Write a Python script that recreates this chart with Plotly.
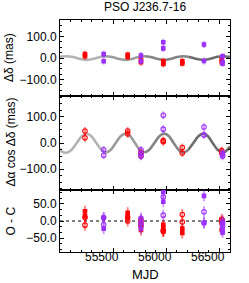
import plotly.graph_objects as go

# ---------------- data ----------------
# Dec offsets (top panel, filled symbols)
dec_red_mjd = [55235, 55235, 55637, 55637, 55762, 55762, 55972, 55972, 55972, 56151, 56151, 56522, 56522]
dec_red_val = [18, 8, 15, 5, -8, -20, -15, -23, -28, -15, -25, -20, -8]
dec_pur_mjd = [55411, 55411, 55762, 55762, 55972, 55972, 56355, 56355, 56530, 56530, 56530]
dec_pur_val = [18, -15, 12, -15, 74, 45, 63, -14, 8, -19, -26]

# RA offsets (middle panel, open symbols)
ra_red_mjd = [55235, 55235, 55637, 55637, 55762, 55762, 55972, 55972, 56151, 56151, 56522, 56522]
ra_red_val = [46, 20, 46, 35, -36, -49, 9, 5, -17, -38, -29, -38]
ra_pur_mjd = [55411, 55411, 55762, 55762, 55762, 55972, 55972, 56355, 56355, 56530, 56530, 56530]
ra_pur_val = [-26, -47, -26, -41, -51, 106, 53, 61, 31, -38, -45, -51]

# O - C residuals (bottom panel): filled = Dec, open = RA
oc_dec_red_val = [28, 14, 24, 12, -13, -26, -11, -20, -30, -22, -35, -26, -6]
oc_dec_pur_val = [9, -22, 4, -22, 85, 56, 73, -6, 2, -26, -33]
oc_ra_red_val = [10, -12, 11, 0, 0, -12, -27, -30, 19, -3, 5, -2]
oc_ra_pur_val = [10, -10, 8, -5, -14, 70, 17, 27, -5, -2, -9, -15]

# error bars (mas)
err_dec = 16
err_ra = 15
err_oc = 16

# fitted parallax curves (extrema, mid-slopes, crossings)
curve_mjd = [55000, 55020, 55063, 55110, 55157, 55204, 55251, 55296, 55342, 55388,
             55433, 55479, 55524, 55571, 55618, 55662, 55706, 55750, 55794, 55841,
             55888, 55935, 55982, 56026, 56070, 56116, 56161, 56208, 56255, 56302,
             56349, 56393, 56437, 56483, 56528, 56565, 56600]
curve_dec = [6, 7, 8, 6, 0, -6, -9, -6, 0, 6, 8, 6, 0, -6, -9, -6, 0, 6, 8, 6,
             0, -6, -9, -6, 0, 6, 8, 6, 0, -6, -9, -6, 0, 6, 8, 7, 5]
curve_ra = [-22, -33, -37, -26, 0, 26, 36, 26, 0, -26, -36, -26, 0, 26, 36, 26, 0, -26, -37, -26,
            0, 26, 36, 26, 0, -26, -37, -26, 0, 26, 36, 26, 0, -26, -37, -30, -14]

x_range = [55000, 56600]
x_ticks = [55500, 56000, 56500]
x_ticklabels = ["55500", "56000", "56500"]
y_ticks_big = [-100, 0, 100]
y_ticks_oc = [-50, 0, 50]

title_text = "PSO J236.7-16"
ytitle_top = "Δδ (mas)"
ytitle_mid = "Δα cos Δδ (mas)"
ytitle_bot = "O - C"
xtitle = "MJD"

# ---------------- styling ----------------
RED = "#ff0000"
PUR = "#9b30ff"
RED_E = "rgba(255,0,0,0.5)"
PUR_E = "rgba(155,48,255,0.5)"
FONT = "Liberation Sans, Arial, Helvetica, sans-serif"
GRAYS = ["#b4b4b4", "#9c9c9c", "#848484", "#6c6c6c"]

fig = go.Figure()


def add_curve(vals, yaxis):
    n = len(curve_mjd)
    seg = [0, 9, 18, 27, n - 1]
    for i in range(4):
        a, b = seg[i], seg[i + 1]
        fig.add_trace(go.Scatter(
            x=curve_mjd[a:b + 1], y=vals[a:b + 1], mode="lines",
            line=dict(color=GRAYS[i], width=2.6, shape="spline", smoothing=0.8),
            xaxis="x" if yaxis == "y" else "x" + yaxis[1:], yaxis=yaxis,
            hoverinfo="skip", showlegend=False))


def add_pts(xs, ys, color, ecolor, err, filled, xa, ya):
    fig.add_trace(go.Scatter(
        x=xs, y=ys, mode="markers",
        marker=dict(symbol="square" if filled else "circle-open",
                    size=3.5 if filled else 4.5,
                    color=color, line=dict(color=color, width=1.1)),
        error_y=dict(type="constant", value=err, thickness=1.8, width=0, color=ecolor),
        xaxis=xa, yaxis=ya, showlegend=False, cliponaxis=True))


add_curve(curve_dec, "y")
add_curve(curve_ra, "y2")

add_pts(dec_red_mjd, dec_red_val, RED, RED_E, err_dec, True, "x", "y")
add_pts(dec_pur_mjd, dec_pur_val, PUR, PUR_E, err_dec, True, "x", "y")

add_pts(ra_red_mjd, ra_red_val, RED, RED_E, err_ra, False, "x2", "y2")
add_pts(ra_pur_mjd, ra_pur_val, PUR, PUR_E, err_ra, False, "x2", "y2")

add_pts(dec_red_mjd, oc_dec_red_val, RED, RED_E, err_oc, True, "x3", "y3")
add_pts(dec_pur_mjd, oc_dec_pur_val, PUR, PUR_E, err_oc, True, "x3", "y3")
add_pts(ra_red_mjd, oc_ra_red_val, RED, RED_E, err_oc, False, "x3", "y3")
add_pts(ra_pur_mjd, oc_ra_pur_val, PUR, PUR_E, err_oc, False, "x3", "y3")

axis_common = dict(showline=True, linecolor="black", linewidth=1, mirror="allticks",
                   ticks="inside", ticklen=4, tickwidth=1, tickcolor="black",
                   showgrid=False, zeroline=False, automargin=False,
                   tickfont=dict(family=FONT, size=12, color="black"))

xa = dict(axis_common, range=x_range, tickvals=x_ticks, showticklabels=False,
          minor=dict(ticks="inside", ticklen=2, dtick=100, tick0=55000, tickcolor="black"))

annotations = [
    dict(text=title_text, xref="paper", yref="paper", x=0.5, y=1.056,
         xanchor="center", yanchor="middle", showarrow=False,
         font=dict(family=FONT, size=12)),
    dict(text=ytitle_top, xref="paper", yref="paper", x=-0.30, y=0.836, textangle=-90,
         xanchor="center", yanchor="middle", showarrow=False,
         font=dict(family=FONT, size=12)),
    dict(text=ytitle_mid, xref="paper", yref="paper", x=-0.29, y=0.475, textangle=-90,
         xanchor="center", yanchor="middle", showarrow=False,
         font=dict(family=FONT, size=12)),
    dict(text=ytitle_bot, xref="paper", yref="paper", x=-0.29, y=0.134, textangle=-90,
         xanchor="center", yanchor="middle", showarrow=False,
         font=dict(family=FONT, size=12)),
    dict(text=xtitle, xref="paper", yref="paper", x=0.5, y=-0.1336,
         xanchor="center", yanchor="bottom", showarrow=False, borderpad=0,
         font=dict(family=FONT, size=13)),
]
# x tick labels (sit slightly left of their ticks, as in the original)
for tv, tl in zip(x_ticks, x_ticklabels):
    annotations.append(dict(text=tl, xref="x3", yref="paper", x=tv, y=-0.0237,
                            xshift=-11, xanchor="center", yanchor="middle",
                            showarrow=False, borderpad=0,
                            font=dict(family=FONT, size=12)))

fig.update_layout(
    width=249, height=283,
    margin=dict(l=60, r=19, t=20, b=31, pad=0, autoexpand=False),
    paper_bgcolor="white", plot_bgcolor="white",
    font=dict(family=FONT, size=12, color="black"),
    xaxis=dict(xa, anchor="y"),
    xaxis2=dict(xa, anchor="y2", matches="x"),
    xaxis3=dict(xa, anchor="y3", matches="x"),
    yaxis=dict(axis_common, domain=[0.6724, 1.0], range=[-178, 178], tickvals=y_ticks_big,
               tickformat=".1f", anchor="x",
               minor=dict(ticks="inside", ticklen=2, dtick=25, tickcolor="black")),
    yaxis2=dict(axis_common, domain=[0.2672, 0.6724], range=[-180, 180], tickvals=y_ticks_big,
                tickformat=".1f", anchor="x2",
                minor=dict(ticks="inside", ticklen=2, dtick=25, tickcolor="black")),
    yaxis3=dict(axis_common, domain=[0.0, 0.2672], range=[-90, 90], tickvals=y_ticks_oc,
                tickformat=".1f", anchor="x3",
                minor=dict(ticks="inside", ticklen=2, dtick=50 / 3, tick0=0, tickcolor="black")),
    shapes=[dict(type="line", xref="x3 domain", x0=0, x1=1, yref="y3", y0=0, y1=0,
                 line=dict(color="black", width=1, dash="dot"), layer="below")],
    annotations=annotations,
)

fig.write_html("out.html", config={"displayModeBar": False},
               post_script="document.body.style.margin='0';document.body.style.overflow='hidden';")
